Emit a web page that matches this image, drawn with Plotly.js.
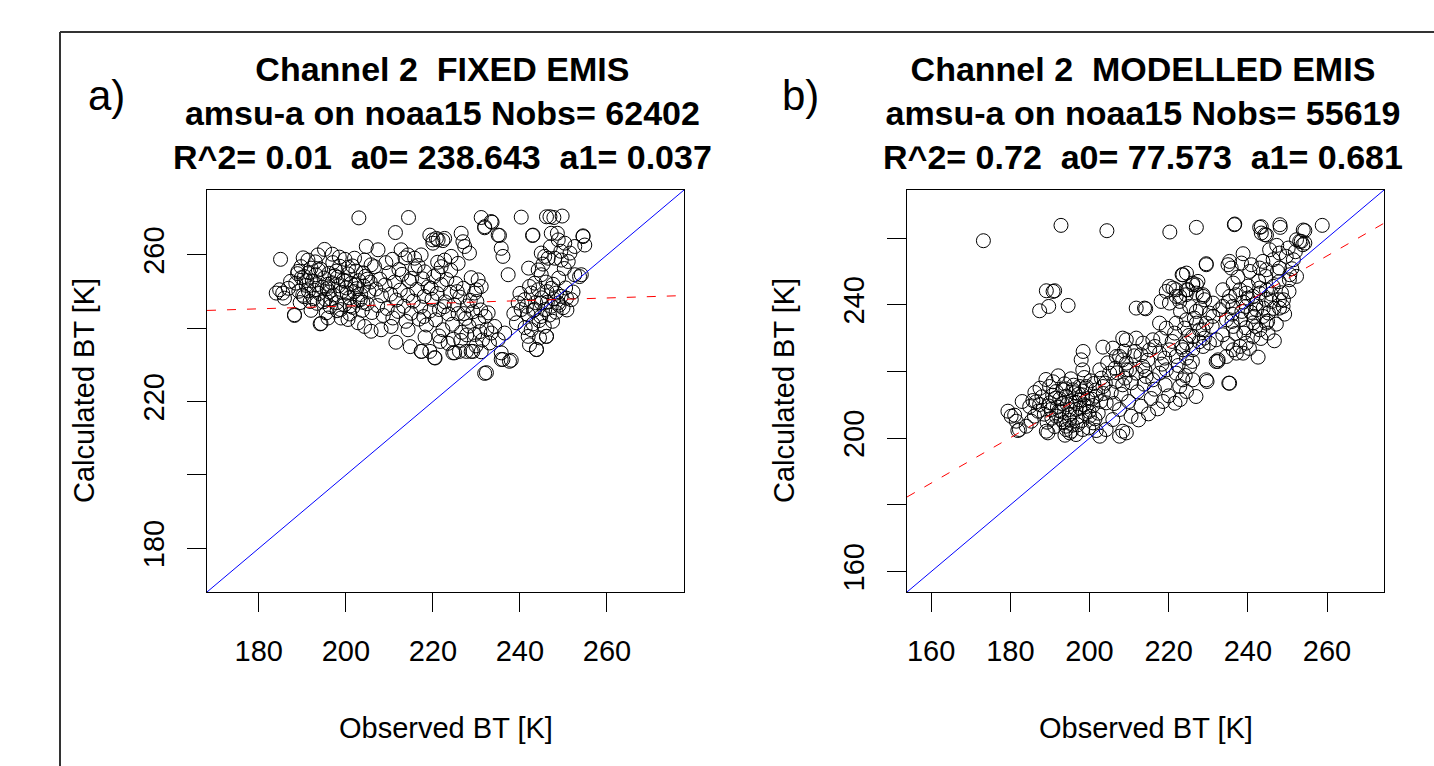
<!DOCTYPE html>
<html>
<head>
<meta charset="utf-8">
<script src="https://cdn.plot.ly/plotly-3.0.1.min.js"></script>
<style>
  html, body { margin: 0; padding: 0; background: #ffffff; }
  #chart { width: 1434px; height: 766px; }
</style>
</head>
<body>
<div id="chart"></div>
<script>
// ---------------- DATA ----------------
// Panel a) FIXED EMIS : observed BT [K] vs calculated BT [K]
const obsA = [
203.0,214.4,211.4,231.1,233.6,231.9,240.3,246.1,246.9,247.8,249.7,242.9,235.3,248.6,254.5,254.9,220.0,221.2,222.3,219.3,
226.5,185.0,188.2,194.1,231.9,220.5,219.3,217.4,224.6,226.1,227.7,229.2,231.1,236.1,238.0,235.7,242.2,243.8,246.1,244.5,
254.1,184.8,184.0,185.9,
195.1,193.6,191.3,189.7,189.0,190.5,192.0,185.5,188.2,194.3,195.9,198.9,200.5,202.0,204.3,205.8,202.8,204.3,205.8,204.7,
188.5,189.2,189.8,190.4,190.9,191.5,191.8,192.3,192.7,193.1,193.4,193.9,194.2,194.6,195.0,195.3,195.7,196.1,196.4,196.8,
197.2,197.5,197.9,198.3,198.6,199.0,199.4,199.7,200.1,200.5,200.8,201.2,201.6,201.9,202.3,202.7,203.0,203.4,203.8,204.1,
204.5,204.9,205.3,205.6,206.0,189.5,192.0,195.5,198.0,200.9,197.0,199.8,193.0,201.5,187.3,186.8,190.2,196.9,198.5,
190.1,191.0,192.6,193.3,194.8,195.9,196.6,197.8,198.8,199.9,200.3,201.0,202.5,203.3,204.0,205.0,188.9,191.4,193.7,196.2,
198.1,200.6,202.1,203.9,
231.9,220.8,222.7,220.0,226.9,227.3,228.4,212.7,214.3,215.8,217.3,222.7,224.2,225.8,221.9,221.2,230.4,231.1,229.6,217.3,
220.4,225.0,228.8,208.1,210.4,214.3,207.4,206.6,
206.9,207.3,207.8,208.2,208.6,209.0,209.5,209.9,210.3,210.8,211.2,211.6,212.0,212.5,212.9,213.3,213.8,214.2,214.6,215.0,
215.5,215.9,216.3,216.8,217.2,217.6,218.0,218.5,218.9,219.3,219.8,220.2,220.6,221.0,221.5,221.9,222.3,222.8,223.2,223.6,
224.0,224.5,224.9,225.3,225.8,226.2,226.6,227.0,227.5,227.9,228.3,228.8,229.2,229.6,230.1,230.5,231.0,231.4,232.0,218.2,
221.7,223.5,226.4,229.9,232.4,233.0,
209.2,210.7,212.2,213.6,215.1,216.6,218.1,219.6,221.1,222.6,224.1,225.6,227.1,228.6,230.0,211.5,214.8,217.9,221.4,224.7,
227.8,230.8,
233.4,235.0,235.7,236.1,237.3,243.0,247.2,248.8,250.3,252.6,254.5,244.9,245.7,246.5,248.0,249.5,251.1,244.2,244.9,243.4,
242.2,242.6,244.2,247.2,248.4,249.5,250.7,251.8,248.8,247.2,245.7,241.1,239.6,240.3,241.9,243.4,244.9,252.6,253.7,242.6,
241.9,243.8,246.1,234.2,233.4,235.0,236.5,232.7,235.7,237.6,232.3,
245.0,246.3,247.8,243.6,246.8,248.3,249.9,244.4,245.6,247.5,243.0,250.5,246.0,248.9,250.2,245.3,242.0,247.0,249.4,251.5,
238.6,240.0,241.5,243.1,244.8,246.2,247.6,249.0,250.8,252.2,239.2,241.2
];
const calcA = [
270.1,270.2,266.1,270.2,268.9,267.4,270.3,270.4,270.4,270.2,270.6,265.3,265.3,265.9,265.2,262.7,264.1,264.1,263.9,265.4,
265.9,258.8,243.5,241.2,227.7,231.9,233.7,233.7,233.3,233.7,233.7,233.7,233.6,231.5,231.3,233.3,235.5,234.2,237.8,237.4,
254.6,250.5,249.6,248.2,
261.5,260.0,258.6,256.8,255.5,254.1,256.4,249.6,243.7,241.3,242.8,242.8,242.4,259.1,258.6,257.3,241.5,240.5,239.2,262.3,
252.3,250.1,253.8,248.6,251.7,255.2,247.3,252.9,250.4,254.6,246.8,249.5,256.1,251.2,253.7,247.9,250.8,255.0,245.9,252.4,
249.1,254.3,247.0,251.6,256.9,249.8,253.1,246.4,251.0,254.8,248.3,252.2,245.7,250.0,255.6,247.6,253.0,249.2,244.9,251.5,
254.2,246.7,249.9,252.6,244.3,247.0,244.9,244.2,244.8,243.9,257.9,258.8,258.1,257.0,252.8,250.9,259.2,260.2,259.4,
249.0,253.0,248.1,251.9,247.2,252.0,248.0,255.6,245.1,252.8,249.6,246.1,250.8,247.8,255.1,253.4,254.9,250.2,255.9,249.9,
253.9,256.6,251.8,247.1,
267.7,264.5,264.5,263.2,263.6,262.3,260.5,261.4,260.0,259.1,260.0,258.6,259.6,257.7,256.8,255.0,253.2,251.4,249.6,233.7,
232.0,233.3,233.7,239.6,240.5,239.6,261.4,256.8,
250.7,246.2,253.4,248.9,243.5,251.8,245.4,255.1,249.3,242.8,252.6,247.7,244.6,250.4,254.7,246.0,241.9,249.0,252.9,244.1,
247.4,256.2,250.6,242.5,245.8,253.5,248.7,240.9,251.3,244.7,247.9,254.1,242.3,249.5,245.1,251.9,239.6,247.2,253.3,243.9,
249.8,241.1,246.4,252.2,244.0,248.5,238.9,250.9,242.7,246.1,240.6,253.8,244.5,238.3,247.3,241.9,245.0,236.8,243.2,237.6,
236.4,235.9,236.7,235.2,239.8,236.0,
257.9,258.8,256.0,259.2,253.6,257.1,255.4,250.9,258.0,245.9,255.8,250.0,244.0,247.6,250.5,236.2,235.0,243.2,237.9,237.0,
238.2,239.1,
269.1,265.4,261.8,259.6,254.6,265.4,265.9,264.1,263.2,262.3,265.0,260.5,259.6,259.1,259.1,258.6,258.2,255.9,254.6,252.3,
251.4,249.6,250.5,250.9,249.6,248.7,248.2,247.8,246.9,246.0,245.1,247.8,246.9,245.1,243.7,245.1,246.9,254.6,254.1,239.6,
237.8,234.2,237.8,240.5,238.7,236.9,238.7,244.2,231.5,231.0,227.9,
248.3,247.1,248.0,247.0,243.6,244.4,245.6,242.1,240.5,241.9,241.2,251.0,252.6,253.7,256.3,257.5,256.4,262.2,261.0,260.5,
244.0,249.5,246.0,244.9,243.2,250.0,252.0,246.3,245.0,249.9,241.5,240.2
];

// Panel b) MODELLED EMIS : observed BT [K] vs calculated BT [K]
const obsB = [
173.2,192.8,204.4,220.3,227.0,236.6,243.0,243.4,244.3,248.1,248.2,258.8,254.4,253.5,253.9,254.4,189.1,190.8,191.2,187.4,
189.7,194.6,211.8,214.2,229.5,235.0,223.4,221.1,219.4,218.1,220.2,221.9,224.4,226.1,227.4,228.7,203.4,198.4,197.9,229.7,
235.2,222.9,232.4,208.4,201.7,179.4,181.1,181.9,185.7,186.5,187.4,189.5,189.1,195.0,194.1,
205.9,208.4,198.3,180.2,181.5,182.3,184.0,185.3,186.1,187.0,184.9,189.9,191.6,193.3,194.1,195.8,197.5,199.2,190.3,191.6,
192.9,194.1,195.4,196.6,198.3,197.5,199.2,200.0,200.9,195.0,196.6,202.6,205.1,206.8,208.4,203.4,201.7,204.2,205.9,204.2,
207.6,202.6,209.3,207.6,209.3,209.3,207.6,
188.0,188.6,189.3,190.0,190.7,191.2,191.9,192.5,193.0,193.7,194.4,195.0,195.6,196.3,196.9,197.6,198.2,198.9,199.6,200.3,
200.9,201.5,202.2,202.8,203.5,187.5,189.0,192.1,195.3,198.7,193.8,197.0,199.8,186.2,183.0,
189.6,190.5,191.4,192.3,193.2,194.0,194.9,195.7,196.5,197.3,198.1,199.0,199.9,200.6,201.4,190.8,193.5,196.0,198.6,201.1,
235.8,223.6,220.2,221.9,224.9,227.0,228.7,213.9,222.8,225.3,227.0,230.3,233.7,235.4,233.7,236.2,217.7,219.4,221.9,224.5,
227.0,228.7,209.3,211.8,213.5,216.0,215.2,217.7,220.2,221.9,224.5,226.1,228.7,230.3,232.0,206.8,208.4,210.1,211.8,213.5,
214.3,216.0,217.7,219.4,221.9,223.6,225.3,226.1,229.5,235.4,232.5,222.8,224.5,
203.0,204.6,205.5,206.2,207.0,208.0,208.8,209.9,210.6,211.3,212.1,213.0,213.8,214.7,215.6,216.4,217.2,218.3,219.1,220.0,
220.9,221.6,222.4,223.3,224.2,225.1,226.0,226.9,227.7,210.5,212.4,214.9,218.6,
204.0,206.5,209.0,211.5,214.0,216.5,219.0,221.5,224.0,226.5,229.0,231.0,213.0,218.0,223.0,228.0,
236.7,243.4,244.7,254.0,253.1,252.3,245.5,248.0,249.7,246.4,243.8,243.0,244.7,248.0,229.5,235.4,238.4,240.9,240.5,250.6,
252.3,224.5,226.1,224.5,222.8,227.0,229.1,231.2,236.3,238.0,239.6,241.3,243.0,244.7,246.4,248.0,248.9,239.6,242.2,243.8,
244.7,243.0,241.3,239.6,238.0,236.3,234.6,232.9,234.6,236.3,231.2,229.5,227.8,226.1,224.5,223.6,232.0,237.1,238.8,
235.1,236.0,236.9,237.5,238.2,238.9,239.5,240.1,240.8,241.4,242.0,242.7,243.3,243.9,244.6,245.2,245.9,246.6,247.2,247.9,
248.5,249.3,250.4,251.1,245.1,246.7,240.4,242.6,233.7,234.9,250.2,252.0,247.3,238.8,
237.0,238.5,240.0,241.5,243.0,244.5,246.0,247.5,249.0,250.5,236.0,239.0,242.0,245.0,248.0,251.5
];
const calcB = [
259.2,263.8,262.2,261.8,263.2,264.0,263.2,261.5,261.0,264.0,263.2,263.8,262.2,259.0,258.0,258.5,244.2,244.0,244.2,238.2,
239.5,239.8,239.0,238.8,252.0,252.0,249.0,245.0,244.0,241.0,240.5,242.5,243.0,246.0,247.0,242.5,227.3,226.0,223.5,217.0,
216.5,211.6,223.0,202.1,202.3,208.1,206.9,202.3,211.3,210.9,210.1,201.6,202.1,201.6,202.6,
227.0,230.0,220.5,206.6,205.1,202.6,203.6,205.1,206.6,208.1,209.5,215.5,214.0,214.5,212.6,214.5,215.5,215.5,208.6,206.6,
205.6,203.6,202.1,201.1,202.6,211.5,209.5,206.6,204.6,208.6,208.6,220.5,219.5,217.0,216.0,215.5,212.6,210.6,205.6,202.6,
208.6,200.6,222.5,224.5,220.5,201.6,200.6,
212.4,207.2,204.8,210.6,212.9,203.5,209.3,211.8,207.9,216.3,210.1,205.4,211.2,213.6,206.3,209.0,213.0,207.4,211.9,217.2,
209.8,214.4,207.5,211.0,213.4,215.0,217.6,218.7,217.8,218.2,200.9,204.0,203.1,213.7,211.0,
209.7,206.0,212.0,208.2,210.4,214.8,207.0,203.9,210.8,213.2,205.3,215.0,208.0,211.7,205.8,216.9,204.7,215.9,210.0,216.4,
251.0,249.0,245.5,244.5,244.5,246.0,243.0,239.0,241.0,239.5,238.0,237.5,244.5,242.5,239.5,239.5,234.5,233.0,234.5,235.5,
234.5,232.5,229.5,230.0,228.5,229.5,226.5,225.5,226.5,224.5,224.0,226.5,227.5,228.5,229.5,224.5,223.5,220.5,219.5,221.5,
218.5,217.5,219.5,220.5,219.5,217.5,221.5,217.5,217.5,216.5,223.5,215.5,214.0,
218.0,222.6,213.8,210.4,219.6,213.2,226.1,211.0,216.6,224.7,213.9,209.6,216.2,223.4,211.9,214.7,208.8,222.2,216.0,212.7,
229.0,210.5,221.8,227.3,218.8,230.8,223.0,212.5,228.9,206.6,205.5,207.3,211.0,
216.5,221.0,218.0,226.0,220.5,227.5,224.0,231.5,233.0,236.0,230.0,233.5,225.0,230.0,238.0,239.0,
264.2,263.4,260.9,262.4,259.0,259.5,256.5,255.5,254.5,253.5,253.0,251.0,250.5,251.0,252.3,253.0,252.5,252.0,250.0,249.0,
248.5,249.5,246.5,244.5,242.5,243.5,241.5,240.5,246.5,244.5,243.5,242.5,243.5,244.5,245.5,241.5,239.5,239.5,238.5,236.5,
234.5,232.5,230.5,228.5,227.5,226.5,224.5,238.5,235.5,233.5,236.5,234.5,232.5,230.5,228.5,226.5,223.0,225.5,225.5,
241.0,237.2,231.4,248.3,235.6,240.8,233.1,245.6,237.7,234.6,240.2,247.1,229.9,239.0,241.6,237.5,243.2,238.9,234.2,246.9,
243.6,237.2,244.0,250.8,231.5,229.2,226.9,224.3,231.0,228.4,257.0,255.9,257.8,255.3,
243.0,238.0,242.0,236.5,245.0,248.5,241.0,250.0,241.5,247.5,235.0,231.5,233.5,235.0,239.0,253.5
];

// Regression coefficients (a0, a1) given in the titles
const fitA = [238.643, 0.037];
const fitB = [77.573, 0.681];

// Titles
const titleA = ["Channel 2\u00a0\u00a0FIXED EMIS", "amsu-a on noaa15 Nobs= 62402", "R^2= 0.01\u00a0\u00a0a0= 238.643\u00a0\u00a0a1= 0.037"];
const titleB = ["Channel 2\u00a0\u00a0MODELLED EMIS", "amsu-a on noaa15 Nobs= 55619", "R^2= 0.72\u00a0\u00a0a0= 77.573\u00a0\u00a0a1= 0.681"];

// Ticks
const ticksA = [180, 200, 220, 240, 260];
const yTickTextA = ["180", "", "220", "", "260"];
const ticksB = [160, 180, 200, 220, 240, 260];
const yTickTextB = ["160", "", "200", "", "240", ""];

// ---------------- LAYOUT ----------------
const W = 1434, H = 766;
const rangeA = [168.1, 277.7];
const rangeB = [153.9, 274.4];
const px = v => v / W;
const py = v => 1 - v / H;
const FONT = "Liberation Sans, Arial, Helvetica, sans-serif";

function lineTrace(range, a0, a1, xa, ya, color, dash) {
  const xs = [range[0], range[1]];
  return {
    x: xs, y: xs.map(v => a0 + a1 * v), xaxis: xa, yaxis: ya,
    mode: "lines", type: "scatter", hoverinfo: "skip", showlegend: false,
    line: { color: color, width: 1, dash: dash }
  };
}

function pts(x, y, xa, ya) {
  return {
    x: x, y: y, xaxis: xa, yaxis: ya, type: "scatter", mode: "markers", showlegend: false,
    marker: { symbol: "circle-open", size: 14, color: "#000000", line: { width: 1, color: "#000000" } }
  };
}

const traces = [
  pts(obsA, calcA, "x", "y"),
  lineTrace(rangeA, 0, 1, "x", "y", "#0000ff", "solid"),
  lineTrace(rangeA, fitA[0], fitA[1], "x", "y", "#ff0000", "9px,11px"),
  pts(obsB, calcB, "x2", "y2"),
  lineTrace(rangeB, 0, 1, "x2", "y2", "#0000ff", "solid"),
  lineTrace(rangeB, fitB[0], fitB[1], "x2", "y2", "#ff0000", "9px,11px")
];

function axis(domain, range, tickvals, ticktext, isY, anchor) {
  const a = {
    domain: domain, range: range, anchor: anchor,
    tickmode: "array", tickvals: tickvals, ticktext: ticktext,
    ticks: "outside", ticklen: 19, tickwidth: 1, tickcolor: "#000000",
    showline: true, linecolor: "#000000", linewidth: 1, mirror: true,
    showgrid: false, zeroline: false, automargin: false,
    tickfont: { family: FONT, size: 29, color: "#000000" },
    ticklabelstandoff: 14
  };
  if (isY) { a.tickangle = -90; a.ticklabelstandoff = 11; }
  return a;
}

const xDomA = [px(207), px(684)];
const xDomB = [px(907), px(1384)];
const yDom = [py(592), py(190)];

const annotations = [];
function title(lines, cx) {
  annotations.push({
    xref: "paper", yref: "paper", x: px(cx), y: py(113), xanchor: "center", yanchor: "middle",
    text: "<b>" + lines.join("</b><br><b>") + "</b>", showarrow: false,
    font: { family: FONT, size: 34, color: "#000000" }, align: "center"
  });
}
title(titleA, 442);
title(titleB, 1143);
function txt(t, x, y, size, angle) {
  annotations.push({
    xref: "paper", yref: "paper", x: px(x), y: py(y), xanchor: "center", yanchor: "middle",
    text: t, showarrow: false, textangle: angle || 0,
    font: { family: FONT, size: size, color: "#000000" }
  });
}
txt("a)", 106, 95, 42);
txt("b)", 800, 95, 42);
txt("Observed BT [K]", 445.5, 728, 29);
txt("Observed BT [K]", 1145.5, 728, 29);
txt("Calculated BT [K]", 84, 391, 29, -90);
txt("Calculated BT [K]", 784, 391, 29, -90);

const layout = {
  width: W, height: H,
  margin: { l: 0, r: 0, t: 0, b: 0, pad: 0 },
  paper_bgcolor: "#ffffff", plot_bgcolor: "#ffffff",
  showlegend: false,
  xaxis: axis(xDomA, rangeA, ticksA, ticksA.map(String), false, "y"),
  yaxis: axis(yDom, rangeA, ticksA, yTickTextA, true, "x"),
  xaxis2: axis(xDomB, rangeB, ticksB, ticksB.map(String), false, "y2"),
  yaxis2: axis(yDom, rangeB, ticksB, yTickTextB, true, "x2"),
  annotations: annotations,
  shapes: [
    { type: "line", xref: "paper", yref: "paper", x0: px(60), x1: 1.02, y0: py(32), y1: py(32), line: { color: "#333333", width: 2 } },
    { type: "line", xref: "paper", yref: "paper", x0: px(60), x1: px(60), y0: py(32), y1: -0.02, line: { color: "#333333", width: 2 } }
  ]
};

Plotly.newPlot("chart", traces, layout, { staticPlot: true, displayModeBar: false });
</script>
</body>
</html>
